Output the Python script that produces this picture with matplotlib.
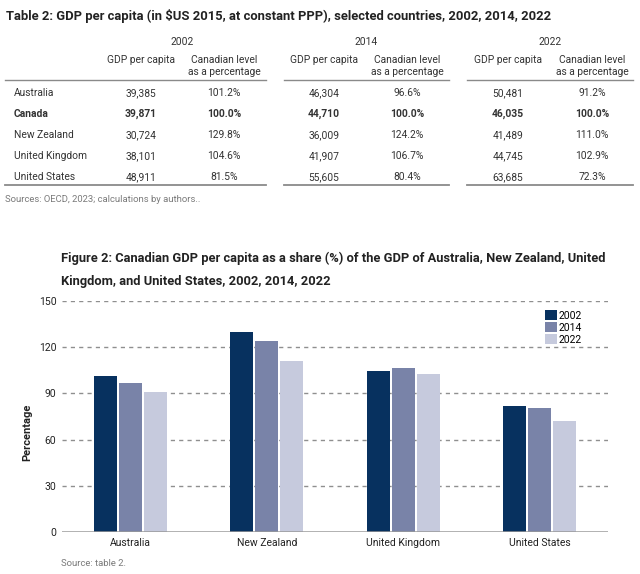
import matplotlib.pyplot as plt
from matplotlib.patches import Patch
import numpy as np

# table data (OECD, 2023)
countries = ['Australia', 'Canada', 'New Zealand', 'United Kingdom', 'United States']
years = ['2002', '2014', '2022']
gdp_2002 = [39385, 39871, 30724, 38101, 48911]
gdp_2014 = [46304, 44710, 36009, 41907, 55605]
gdp_2022 = [50481, 46035, 41489, 44745, 63685]
pct_2002 = [101.2, 100.0, 129.8, 104.6, 81.5]
pct_2014 = [96.6, 100.0, 124.2, 106.7, 80.4]
pct_2022 = [91.2, 100.0, 111.0, 102.9, 72.3]

# chart uses everyone except Canada
chart_countries = [c for c in countries if c != 'Canada']
colors = ['#07315f', '#7983a8', '#c6cadd']

W, H = 640, 574
cond = ['Roboto', 'DejaVu Sans']
reg = ['Roboto', 'DejaVu Sans']

fig = plt.figure(figsize=(W / 100, H / 100), dpi=100)

# overlay in pixel coordinates for the table part
bg = fig.add_axes([0, 0, 1, 1])
bg.set_xlim(0, W)
bg.set_ylim(H, 0)
bg.set_axis_off()

bg.text(6, 16, 'Table 2: GDP per capita (in $US 2015, at constant PPP), selected countries, 2002, 2014, 2022',
        family=cond, weight='bold', fontsize=9.4, color='#222222', va='center', ha='left')

tc = '#333333'
fs = 7.4
gdp_x = [141, 324, 508]
pct_x = [224, 407, 592]
year_x = [182, 366, 550]
segs = [(5, 266), (284, 449), (467, 633)]

for i, yr in enumerate(years):
    bg.text(year_x[i], 42, yr, family=reg, fontsize=fs, color=tc, ha='center', va='center')
    bg.text(gdp_x[i], 60, 'GDP per capita', family=reg, fontsize=fs, color=tc, ha='center', va='center')
    bg.text(pct_x[i], 66, 'Canadian level\nas a percentage', family=reg, fontsize=fs, color=tc,
            ha='center', va='center', linespacing=1.15)
    x0, x1 = segs[i]
    bg.plot([x0, x1], [80, 80], color='#8a8a8a', lw=1)
    bg.plot([x0, x1], [185, 185], color='#8a8a8a', lw=1.3)

row_y = [93, 114, 135, 156, 177]
gdps = [gdp_2002, gdp_2014, gdp_2022]
pcts = [pct_2002, pct_2014, pct_2022]
for r, c in enumerate(countries):
    wt = 'bold' if c == 'Canada' else 'normal'
    bg.text(14, row_y[r], c, family=reg, fontsize=fs, color=tc, weight=wt, va='center')
    for i in range(3):
        bg.text(gdp_x[i], row_y[r], f'{gdps[i][r]:,}', family=reg, fontsize=fs, color=tc,
                weight=wt, ha='center', va='center')
        bg.text(pct_x[i], row_y[r], f'{pcts[i][r]:.1f}%', family=reg, fontsize=fs, color=tc,
                weight=wt, ha='center', va='center')

bg.text(5, 200, 'Sources: OECD, 2023; calculations by authors..', family=reg, fontsize=6.8,
        color='#7a7a7a', va='center')

bg.text(61, 258, 'Figure 2: Canadian GDP per capita as a share (%) of the GDP of Australia, New Zealand, United',
        family=cond, weight='bold', fontsize=9.3, color='#222222', va='center', ha='left')
bg.text(61, 281, 'Kingdom, and United States, 2002, 2014, 2022',
        family=cond, weight='bold', fontsize=9.3, color='#222222', va='center', ha='left')

bg.text(61, 564, 'Source: table 2.', family=reg, fontsize=6.8, color='#7a7a7a', va='center')

# bar chart
ax = fig.add_axes([62 / W, 1 - 532 / H, 546 / W, 231 / H])
x = np.arange(len(chart_countries))
vals = [[p for p, c in zip(pl, countries) if c != 'Canada'] for pl in pcts]
step = 0.183
for i, yr in enumerate(years):
    ax.bar(x + (i - 1) * step, vals[i], width=0.17, color=colors[i], zorder=3)

ax.set_xlim(-0.5, len(chart_countries) - 0.5)
ax.set_ylim(0, 150)
ax.set_yticks([0, 30, 60, 90, 120, 150])
for v in [30, 60, 90, 120, 150]:
    ax.axhline(v, color='#8f8f8f', lw=1, ls=(0, (3, 3)), zorder=1)
ax.axhline(0, color='#9a9a9a', lw=1.8, zorder=4)
for s in ax.spines.values():
    s.set_visible(False)
ax.set_xticks(x)
ax.set_xticklabels(chart_countries)
ax.tick_params(length=0, labelsize=7.5, colors='#222222', pad=4)
for lab in ax.get_xticklabels() + ax.get_yticklabels():
    lab.set_family(cond)
ax.set_ylabel('Percentage', family=cond, weight='bold', fontsize=8, color='#222222')
ax.yaxis.set_label_coords(-30 / 546, 100 / 231)

handles = [Patch(facecolor=colors[i], label=yr) for i, yr in enumerate(years)]
ax.legend(handles=handles, loc='upper left', bbox_to_anchor=(478 / 546, 227 / 231), frameon=False,
          handlelength=1.1, handleheight=1.1, handletextpad=0.2, labelspacing=0.15, borderpad=0,
          prop={'family': cond, 'size': 7.5})

fig.savefig('out.png', dpi=100)
